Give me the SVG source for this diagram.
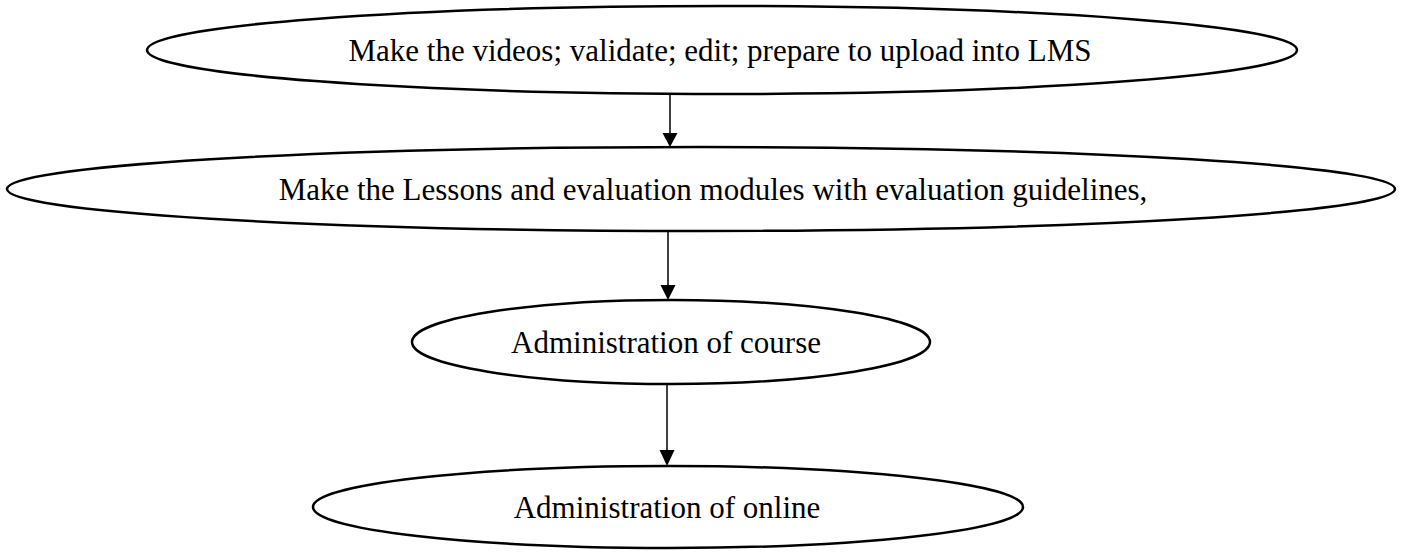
<svg xmlns="http://www.w3.org/2000/svg" width="1401" height="552" viewBox="0 0 1401 552">
<style>
.node ellipse{fill:#fff;stroke:#000;stroke-width:2.5}
.node text{font-family:"Liberation Serif","Times New Roman",serif;font-size:31px;fill:#000;text-anchor:middle}
.edge line{stroke:#000;stroke-width:1.5}
.edge polygon{fill:#000}
</style>
<rect width="1401" height="552" fill="#fff"/>
<g id="n1" class="node"><ellipse cx="722" cy="50" rx="575" ry="44"/><text x="720" y="61">Make the videos; validate; edit; prepare to upload into LMS</text></g>
<g id="n2" class="node"><ellipse cx="701" cy="189" rx="694" ry="42"/><text x="713" y="200">Make the Lessons and evaluation modules with evaluation guidelines,</text></g>
<g id="n3" class="node"><ellipse cx="671" cy="342" rx="259" ry="42"/><text x="666" y="353">Administration of course</text></g>
<g id="n4" class="node"><ellipse cx="668" cy="507" rx="355" ry="41"/><text x="667" y="518">Administration of online</text></g>
<g id="edges" class="edge">
<line x1="670" y1="94" x2="670" y2="134"/><polygon points="662.5,133 677.5,133 670,147"/>
<line x1="668" y1="231" x2="668" y2="286"/><polygon points="660.5,285 675.5,285 668,300"/>
<line x1="667" y1="384" x2="667" y2="451"/><polygon points="659.5,450 674.5,450 667,466"/>
</g>
</svg>
